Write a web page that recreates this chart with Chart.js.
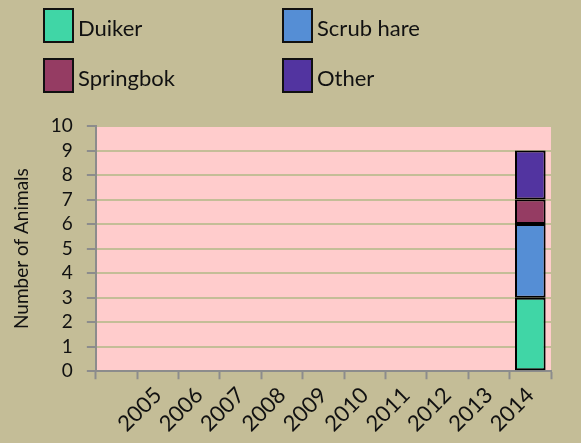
<!DOCTYPE html>
<html>
<head>
<meta charset="utf-8">
<script src="https://cdn.jsdelivr.net/npm/chart.js@4"></script>
<style>
  html, body { margin: 0; padding: 0; background: #C4BD97; }
  #wrap { position: relative; width: 581px; height: 443px; }
  #legend { position: absolute; left: 0; top: 0; width: 581px; height: 110px; font-family: Lato, sans-serif; font-size: 22px; color: #111; }
  .item { position: absolute; display: flex; align-items: center; }
  .box { width: 27px; height: 31px; border: 2px solid #111; margin-right: 4px; }
  .item span { position: relative; top: 2px; }
</style>
</head>
<body>
<div id="wrap">
  <canvas id="chart"></canvas>
  <div id="legend"></div>
</div>
<script>
const years = ['', '2005', '2006', '2007', '2008', '2009', '2010', '2011', '2012', '2013', '2014'];
const duiker    = [null, null, null, null, null, null, null, null, null, null, 3];
const scrubHare = [null, null, null, null, null, null, null, null, null, null, 3];
const springbok = [null, null, null, null, null, null, null, null, null, null, 1];
const other     = [null, null, null, null, null, null, null, null, null, null, 2];

const seriesNames = ['Duiker', 'Scrub hare', 'Springbok', 'Other'];
const seriesColors = ['#40D6A6', '#558ED5', '#953C63', '#5234A0'];
const seriesData = [duiker, scrubHare, springbok, other];

const axisGray = '#8C8C8C';

const chart = new Chart(document.getElementById('chart'), {
  type: 'bar',
  data: {
    labels: years,
    datasets: seriesNames.map((name, i) => ({
      label: name,
      data: seriesData[i],
      backgroundColor: seriesColors[i],
      borderColor: '#000',
      borderWidth: 2,
      borderSkipped: false,
      barPercentage: 0.74,
      categoryPercentage: 1
    }))
  },
  options: {
    responsive: true,
    maintainAspectRatio: false,
    animation: false,
    layout: { padding: { top: 126, right: 30, left: 6, bottom: 3 } },
    plugins: {
      legend: { display: false },
      tooltip: { enabled: false }
    },
    scales: {
      x: {
        stacked: true,
        grid: { offset: true, drawOnChartArea: false, tickLength: 8, tickColor: axisGray, tickWidth: 2 },
        border: { color: axisGray, width: 2 },
        ticks: { font: { family: 'Lato, sans-serif', size: 22 }, color: '#111', minRotation: 45, maxRotation: 45, padding: 3, autoSkip: false }
      },
      y: {
        stacked: true,
        min: 0,
        max: 10,
        ticks: { stepSize: 1, font: { family: 'Lato, sans-serif', size: 19 }, color: '#111', padding: 14, autoSkip: false },
        grid: { color: '#C4BD97', lineWidth: 2, tickLength: 9, tickColor: axisGray, tickWidth: 2 },
        border: { color: axisGray, width: 2 },
        title: { display: true, text: 'Number of Animals', font: { family: 'Lato, sans-serif', size: 19 }, color: '#111', padding: 4 }
      }
    }
  },
  plugins: [{
    id: 'plotBg',
    beforeDraw(c) {
      const { ctx, chartArea: a } = c;
      ctx.save();
      ctx.fillStyle = '#FFCCCC';
      ctx.fillRect(a.left, a.top, a.right - a.left, a.bottom - a.top);
      ctx.restore();
    }
  }]
});

// Legend in two columns
const legend = document.getElementById('legend');
const spots = [[43, 8], [282, 8], [43, 58], [282, 58]];
chart.data.datasets.forEach((ds, i) => {
  const el = document.createElement('div');
  el.className = 'item';
  el.style.left = spots[i][0] + 'px';
  el.style.top = spots[i][1] + 'px';
  el.innerHTML = `<div class="box" style="background:${ds.backgroundColor}"></div><span>${ds.label}</span>`;
  legend.appendChild(el);
});
</script>
</body>
</html>
